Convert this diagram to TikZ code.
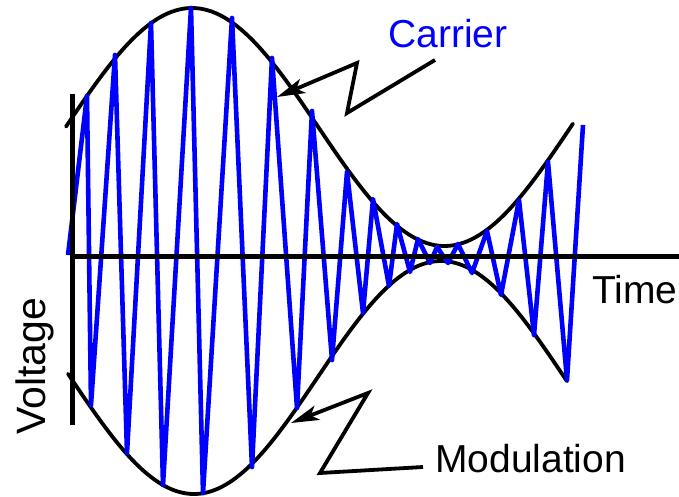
\documentclass[tikz,border=0pt]{standalone}
\usepackage{fontspec}
\setmainfont{Liberation Sans}
\usetikzlibrary{arrows.meta}
\definecolor{carrierblue}{RGB}{0,0,255}
\tikzset{
  envelope/.style={line width=3.8pt, line cap=round},
  carrier/.style={draw=carrierblue, line width=4.6pt, line join=round},
  axisline/.style={line width=5pt},
  pointer/.style={line width=3.8pt, -{Stealth[length=28pt,width=15pt,inset=7pt]}},
  lbl/.style={inner sep=0pt, font=\fontsize{39}{39}\selectfont}
}
\begin{document}
\begin{tikzpicture}[x=1pt,y=-1pt]
\useasboundingbox (0,0) rectangle (679,497);
% envelopes
\draw[envelope] plot[domain=66:573, samples=140] (\x, {127-119*cos(((\x-192)/252.5)*180)});
\draw[envelope] plot[domain=68:567, samples=140] (\x, {377.5+116.5*cos(((\x-194)/247)*180)});
% carrier
\draw[carrier] plot coordinates {
 (68,255) (87,96) (91,405) (115,55) (127,453) (151,23) (163,485) (191,8)
 (203,493) (232,18) (252,467) (272,58) (297,408) (312,111) (332,360) (347,172)
 (363,313) (373,199) (389,286) (397,224) (410,272) (418,239) (430,263) (437,247)
 (448,263) (458,244) (472,273) (487,231) (501,295) (519,200) (534,335) (548,162)
 (567,380) (583,125)};
% axes
\coordinate (origin) at (72,256);
\coordinate (yend) at (72,94);
\coordinate (ybot) at (72,425);
\coordinate (xend) at (679,256);
\draw[axisline] (yend) -- (ybot);
\draw[axisline] (origin) -- (xend);
% labels
\node[lbl, text=carrierblue, anchor=base west] (carrier) at (388,48) {Carrier};
\node[lbl, anchor=base west] (time) at (592,303) {Time};
\node[lbl, anchor=base west] (modulation) at (435,472) {Modulation};
\node[lbl, rotate=90, anchor=base west, font=\fontsize{41}{41}\selectfont] (voltage) at (45,435) {Voltage};
% pointers
\coordinate (c0) at (435,60);
\coordinate (c1) at (347,113);
\coordinate (c2) at (357,63);
\coordinate (c3) at (277,97);
\draw[pointer] (c0) -- (c1) -- (c2) -- (c3);
\coordinate (m0) at (423,467);
\coordinate (m1) at (320,473);
\coordinate (m2) at (368,393);
\coordinate (m3) at (291,423);
\draw[pointer] (m0) -- (m1) -- (m2) -- (m3);
\end{tikzpicture}
\end{document}
